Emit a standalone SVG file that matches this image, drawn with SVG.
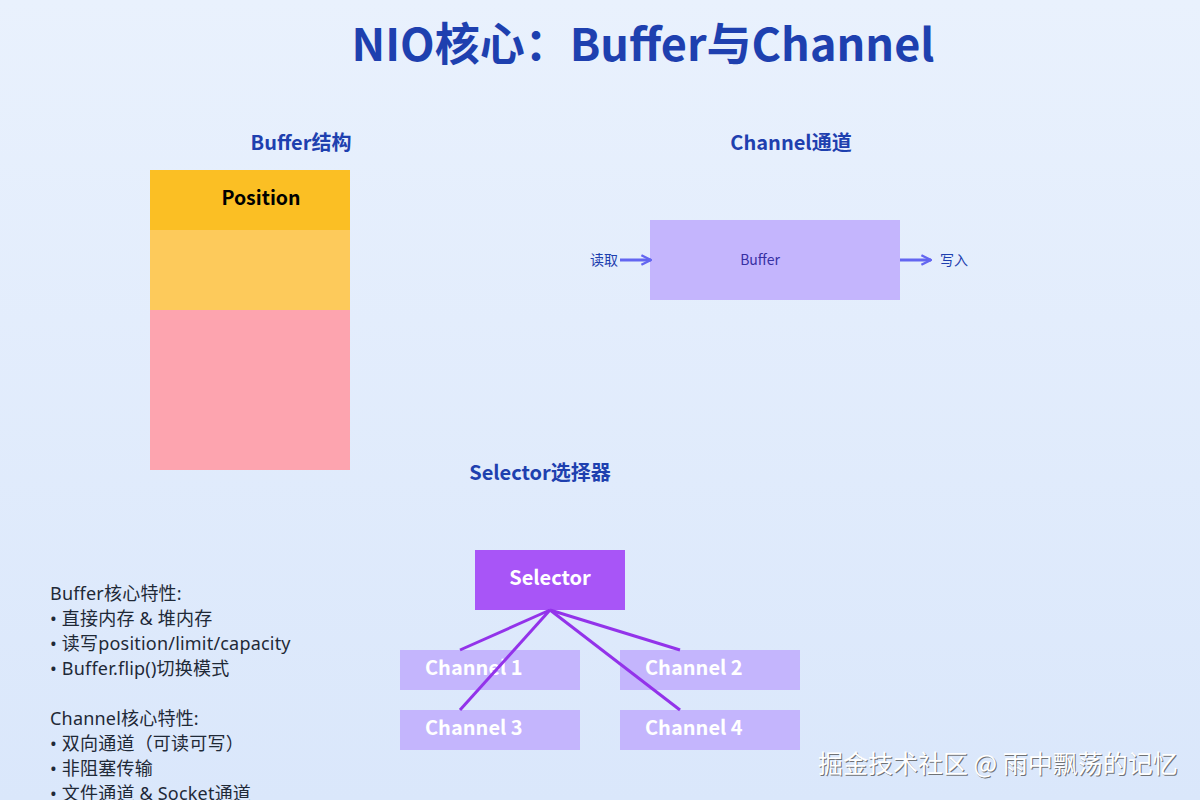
<svg xmlns="http://www.w3.org/2000/svg" width="1200" height="800" viewBox="0 0 1200 800">
<defs>
<linearGradient id="bg" x1="0" y1="0" x2="0" y2="1">
<stop offset="0" stop-color="#e9f1fd"/>
<stop offset="1" stop-color="#dae7fb"/>
</linearGradient>
<marker id="arr" viewBox="0 0 10 10" refX="9" refY="5" markerWidth="4" markerHeight="4" orient="auto">
<path d="M1,1 L9,5 L1,9" fill="none" stroke="#6366f1" stroke-width="2"/>
</marker>
</defs>
<style>
text{font-family:"Noto Sans CJK SC","Noto Sans",sans-serif}
.h{font-size:20px;font-weight:bold;fill:#1e40af;text-anchor:middle}
.ch{fill:#c4b5fd}
.cht{font-size:20px;font-weight:bold;fill:#ffffff}
.note{font-size:18px;fill:#1f2937;font-family:"Noto Sans","Noto Sans CJK SC",sans-serif;letter-spacing:0.2px}
.lbl{font-size:14px;fill:#1e40af}
.link{stroke:#9333ea;stroke-width:3}
.flow{stroke:#6366f1;stroke-width:3;marker-end:url(#arr)}
</style>
<rect width="1200" height="800" fill="url(#bg)"/>
<text x="643" y="61" style="font-size:45px;font-weight:bold;fill:#1e40af;text-anchor:middle">NIO核心：Buffer与Channel</text>

<g id="buffer-structure">
<text class="h" x="301" y="150">Buffer结构</text>
<rect x="150" y="170" width="200" height="60" fill="#fbbf24"/>
<rect x="150" y="230" width="200" height="80" fill="#fdca5b"/>
<rect x="150" y="310" width="200" height="160" fill="#fda4af"/>
<text x="261" y="205" style="font-size:19.5px;font-weight:bold;fill:#000;text-anchor:middle">Position</text>
</g>

<g id="channel">
<text class="h" x="791" y="150">Channel通道</text>
<rect x="650" y="220" width="250" height="80" fill="#c4b5fd"/>
<text x="760" y="265" style="font-size:14px;fill:#3730a3;text-anchor:middle">Buffer</text>
<text class="lbl" x="618" y="265" text-anchor="end">读取</text>
<text class="lbl" x="940" y="265">写入</text>
</g>

<g id="selector-title"><text class="h" x="540" y="480">Selector选择器</text></g>
<g id="selector">
<rect x="475" y="550" width="150" height="60" fill="#a855f7"/>
<text x="550" y="585" style="font-size:20px;font-weight:bold;fill:#fff;text-anchor:middle">Selector</text>
</g>
<g id="channel1"><rect class="ch" x="400" y="650" width="180" height="40"/><text class="cht" x="425" y="675">Channel 1</text></g>
<g id="channel2"><rect class="ch" x="620" y="650" width="180" height="40"/><text class="cht" x="645" y="675">Channel 2</text></g>
<g id="channel3"><rect class="ch" x="400" y="710" width="180" height="40"/><text class="cht" x="425" y="735">Channel 3</text></g>
<g id="channel4"><rect class="ch" x="620" y="710" width="180" height="40"/><text class="cht" x="645" y="735">Channel 4</text></g>

<g id="connectors">
<line class="flow" x1="620" y1="260" x2="651" y2="260"/>
<line class="flow" x1="900" y1="260" x2="931" y2="260"/>
<line class="link" x1="550" y1="610" x2="460" y2="650"/>
<line class="link" x1="550" y1="610" x2="680" y2="650"/>
<line class="link" x1="550" y1="610" x2="460" y2="710"/>
<line class="link" x1="550" y1="610" x2="680" y2="710"/>
</g>

<g id="notes">
<text class="note" x="50" y="600">Buffer核心特性:</text>
<text class="note" x="50" y="625">• 直接内存 &amp; 堆内存</text>
<text class="note" x="50" y="650">• 读写position/limit/capacity</text>
<text class="note" x="50" y="675">• Buffer.flip()切换模式</text>
<text class="note" x="50" y="725">Channel核心特性:</text>
<text class="note" x="50" y="750">• 双向通道（可读可写）</text>
<text class="note" x="50" y="775">• 非阻塞传输</text>
<text class="note" x="50" y="800">• 文件通道 &amp; Socket通道</text>
</g>

<g id="watermark">
<text x="819" y="774" style="font-size:25px;fill:#555;opacity:0.8">掘金技术社区 @ 雨中飘荡的记忆</text>
<text x="818" y="773" style="font-size:25px;fill:#fff">掘金技术社区 @ 雨中飘荡的记忆</text>
</g>
</svg>
